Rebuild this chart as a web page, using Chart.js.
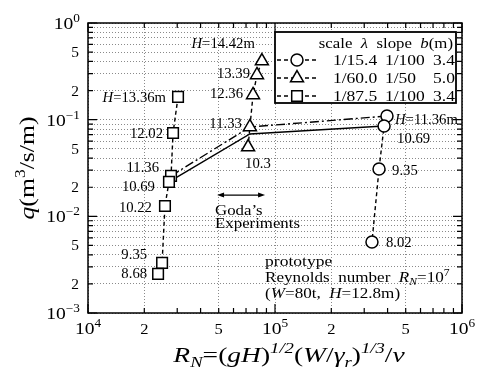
<!DOCTYPE html>
<html>
<head>
<meta charset="utf-8">
<script src="https://cdn.jsdelivr.net/npm/chart.js@4/dist/chart.umd.min.js"></script>
<style>
html, body { margin: 0; padding: 0; background: #fff; }
#wrap { width: 478px; height: 374px; }
</style>
</head>
<body>
<div id="wrap"><canvas id="chart" width="478" height="374"></canvas></div>
<script>
// tick labels
const xMajor = [1e4, 1e5, 1e6];
const xMajorExp = ['4', '5', '6'];
const xMinor = [2e4, 5e4, 2e5, 5e5];
const xMinorText = ['2', '5', '2', '5'];
const yMajor = [1e-3, 1e-2, 1e-1, 1];
const yMajorExp = ['\u22123', '\u22122', '\u22121', '0'];
const yMinor = [2e-3, 5e-3, 2e-2, 5e-2, 2e-1, 5e-1];
const yMinorText = ['2', '5', '2', '5', '2', '5'];

// scale 1/15.4 (circles)
const circleRN = [397000, 383000, 360000, 330000];
const circleQ = [0.109, 0.086, 0.0309, 0.00543];
const circleH = ['11.36', '10.69', '9.35', '8.02'];
// scale 1/60.0 (triangles)
const triRN = [85100, 80100, 76300, 73400, 71800];
const triQ = [0.404, 0.29, 0.18, 0.084, 0.052];
const triH = ['14.42', '13.39', '12.36', '11.33', '10.3'];
// scale 1/87.5 (squares)
const sqRN = [30300, 28500, 27800, 27100, 25800, 24900, 23700];
const sqQ = [0.172, 0.0728, 0.0262, 0.0227, 0.0128, 0.0033, 0.00254];
const sqH = ['13.36', '12.02', '11.36', '10.69', '10.22', '9.35', '8.68'];
// lines joining the three scales
const upperRN = [27800, 73400, 397000];
const upperQ = [0.0262, 0.084, 0.109];
const lowerRN = [27100, 73400, 383000];
const lowerQ = [0.0227, 0.0711, 0.086];

// legend table
const legendScale = ['1/15.4', '1/60.0', '1/87.5'];
const legendSlope = ['1/100', '1/50', '1/100'];
const legendB = ['3.4', '5.0', '3.4'];

// Goda's experiments range arrow
const godaFrom = 49000;
const godaTo = 88500;
const godaQ = 0.0166;

const FAM = '"Liberation Serif", "DejaVu Serif", serif';
const STYLES = ['circle', 'triangle', 'rect'];
const RADIUS = {circle: 6, triangle: 7.5, rect: 7.5};

// label offsets [dx, dy, align] for each point label
const circleLab = [[8, 3, 'left'], [13, 12, 'left'], [13, 1, 'left'], [14, 0, 'left']];
const triLab = [[-7, -18, 'right'], [-7, -2, 'right'], [-10, -2, 'right'], [-8, -4, 'right'], [-3, 16, 'left']];
const sqLab = [[-12, 0, 'right'], [-10, 0, 'right'], [-12, -9, 'right'], [-14, 4, 'right'], [-13, 1, 'right'], [-15, -9, 'right'], [-11, -1, 'right']];

function pts(xs, ys) {
	return xs.map((x, i) => ({x: x, y: ys[i]}));
}

function decadeTicks(e0, e1) {
	const out = [];
	for (let e = e0; e < e1; e++) {
		for (let m = 1; m <= 9; m++) out.push(m * Math.pow(10, e));
	}
	out.push(Math.pow(10, e1));
	return out;
}

function mant(v) {
	const e = Math.floor(Math.log10(v) + 1e-9);
	return Math.round(v / Math.pow(10, e));
}

// draw text made of parts: [text, flags] flags: i italic, ^ sup, _ sub
function rich(ctx, parts, x, y, align, size, sx) {
	sx = sx || 1;
	const segs = parts.map(p => {
		const f = p[1] || '';
		const small = f.indexOf('^') >= 0 || f.indexOf('_') >= 0;
		const s = small ? size * 0.68 : size;
		const font = (f.indexOf('i') >= 0 ? 'italic ' : '') + s + 'px ' + FAM;
		ctx.font = font;
		const dy = f.indexOf('^') >= 0 ? -size * 0.42 : (f.indexOf('_') >= 0 ? size * 0.22 : 0);
		return {t: p[0], font: font, dy: dy, w: ctx.measureText(p[0]).width};
	});
	const total = segs.reduce((a, s) => a + s.w, 0);
	let cx = align === 'center' ? -total / 2 : (align === 'right' ? -total : 0);
	ctx.save();
	ctx.translate(x, y);
	ctx.scale(sx, 1);
	ctx.textAlign = 'left';
	ctx.textBaseline = 'alphabetic';
	ctx.fillStyle = '#000';
	segs.forEach(s => {
		ctx.font = s.font;
		ctx.fillText(s.t, cx, s.dy);
		cx += s.w;
	});
	ctx.restore();
}

function marker(ctx, style, x, y) {
	const r = RADIUS[style];
	ctx.save();
	ctx.setLineDash([]);
	ctx.lineWidth = 1.5;
	ctx.strokeStyle = '#000';
	ctx.fillStyle = '#fff';
	ctx.beginPath();
	if (style === 'circle') {
		ctx.arc(x, y, r, 0, Math.PI * 2);
	} else if (style === 'triangle') {
		let a = 0;
		ctx.moveTo(x + Math.sin(a) * r, y - Math.cos(a) * r);
		a += Math.PI * 2 / 3;
		ctx.lineTo(x + Math.sin(a) * r, y - Math.cos(a) * r);
		a += Math.PI * 2 / 3;
		ctx.lineTo(x + Math.sin(a) * r, y - Math.cos(a) * r);
		ctx.closePath();
	} else {
		const s = Math.SQRT1_2 * r;
		ctx.rect(x - s, y - s, 2 * s, 2 * s);
	}
	ctx.fill();
	ctx.stroke();
	ctx.restore();
}

const decor = {
	id: 'decor',
	afterDatasetsDraw(chart) {
		const ctx = chart.ctx;
		const a = chart.chartArea;
		const sx = chart.scales.x;
		const sy = chart.scales.y;

		// frame
		ctx.save();
		ctx.strokeStyle = '#000';
		ctx.lineWidth = 1.5;
		ctx.strokeRect(a.left, a.top, a.right - a.left, a.bottom - a.top);

		// inward tick marks on all four sides
		ctx.lineWidth = 1.2;
		ctx.beginPath();
		decadeTicks(4, 6).forEach(v => {
			const p = sx.getPixelForValue(v);
			const len = mant(v) === 1 ? 9 : 5;
			ctx.moveTo(p, a.bottom); ctx.lineTo(p, a.bottom - len);
			ctx.moveTo(p, a.top); ctx.lineTo(p, a.top + len);
		});
		decadeTicks(-3, 0).forEach(v => {
			const p = sy.getPixelForValue(v);
			const len = mant(v) === 1 ? 9 : 5;
			ctx.moveTo(a.left, p); ctx.lineTo(a.left + len, p);
			ctx.moveTo(a.right, p); ctx.lineTo(a.right - len, p);
		});
		ctx.stroke();
		ctx.restore();

		// tick labels
		xMajor.forEach((v, i) => {
			rich(ctx, [['10', ''], [xMajorExp[i], '^']], sx.getPixelForValue(v), a.bottom + 21, 'center', 17, 1.15);
		});
		xMinor.forEach((v, i) => {
			rich(ctx, [[xMinorText[i], '']], sx.getPixelForValue(v), a.bottom + 21, 'center', 15, 1.1);
		});
		yMajor.forEach((v, i) => {
			rich(ctx, [['10', ''], [yMajorExp[i], '^']], a.left - 8, sy.getPixelForValue(v) + 6, 'right', 17, 1.15);
		});
		yMinor.forEach((v, i) => {
			rich(ctx, [[yMinorText[i], '']], a.left - 9, sy.getPixelForValue(v) + 5, 'right', 14, 1.1);
		});

		// axis titles
		rich(ctx, [['R', 'i'], ['N', 'i_'], ['=(', ''], ['gH', 'i'], [')', ''], ['1/2', 'i^'], ['(', ''], ['W', 'i'], ['/', ''], ['\u03b3', 'i'], ['r', 'i_'], [')', ''], ['1/3', 'i^'], ['/', ''], ['\u03bd', 'i']],
			(a.left + a.right) / 2 + 14, a.bottom + 49, 'center', 22, 1.25);
		ctx.save();
		ctx.translate(a.left - 61, (a.top + a.bottom) / 2);
		ctx.rotate(-Math.PI / 2);
		rich(ctx, [['q', 'i'], ['(m', ''], ['3', '^'], ['/s/m)', '']], 0, 7, 'center', 22, 1.17);
		ctx.restore();

		// point labels
		const groups = [
			[circleRN, circleQ, circleH, circleLab],
			[triRN, triQ, triH, triLab],
			[sqRN, sqQ, sqH, sqLab]
		];
		groups.forEach(g => {
			g[0].forEach((rn, i) => {
				const px = sx.getPixelForValue(rn) + g[3][i][0];
				const py = sy.getPixelForValue(g[1][i]) + g[3][i][1] + 5;
				const parts = i === 0 ? [['H', 'i'], ['=' + g[2][i] + 'm', '']] : [[g[2][i], '']];
				rich(ctx, parts, px, py, g[3][i][2], 14, 1.05);
			});
		});

		// Goda's experiments arrow
		const gx0 = sx.getPixelForValue(godaFrom);
		const gx1 = sx.getPixelForValue(godaTo);
		const gy = sy.getPixelForValue(godaQ);
		ctx.save();
		ctx.strokeStyle = '#000';
		ctx.fillStyle = '#000';
		ctx.lineWidth = 1.2;
		ctx.beginPath();
		ctx.moveTo(gx0 + 3, gy); ctx.lineTo(gx1 - 3, gy);
		ctx.stroke();
		ctx.beginPath();
		ctx.moveTo(gx0, gy); ctx.lineTo(gx0 + 7, gy - 2.5); ctx.lineTo(gx0 + 7, gy + 2.5); ctx.closePath();
		ctx.moveTo(gx1, gy); ctx.lineTo(gx1 - 7, gy - 2.5); ctx.lineTo(gx1 - 7, gy + 2.5); ctx.closePath();
		ctx.fill();
		ctx.restore();
		rich(ctx, [['Goda\u2019s', '']], gx0 - 2, gy + 20, 'left', 14, 1.2);
		rich(ctx, [['Experiments', '']], gx0 - 2, gy + 33, 'left', 14, 1.2);

		// prototype note
		const nx = gx1;
		const ny = a.bottom - 47;
		rich(ctx, [['prototype', '']], nx, ny, 'left', 14, 1.25);
		rich(ctx, [['Reynolds  number  ', ''], ['R', 'i'], ['N', 'i_'], ['=10', ''], ['7', '^']], nx, ny + 16, 'left', 14, 1.22);
		rich(ctx, [['(', ''], ['W', 'i'], ['=80t,  ', ''], ['H', 'i'], ['=12.8m)', '']], nx, ny + 32, 'left', 14, 1.22);

		// legend box
		const lx = 275, ly = 32, lw = 181, lh = 71;
		ctx.save();
		ctx.fillStyle = '#fff';
		ctx.fillRect(lx, ly, lw, lh);
		ctx.strokeStyle = '#000';
		ctx.lineWidth = 1.8;
		ctx.strokeRect(lx, ly, lw, lh);
		ctx.restore();
		rich(ctx, [['scale  ', ''], ['\u03bb', 'i'], ['  slope  ', ''], ['b', 'i'], ['(m)', '']], lx + lw - 3, ly + 16, 'right', 14, 1.2);
		legendScale.forEach((s, i) => {
			const my = ly + 28 + i * 18;
			ctx.save();
			ctx.strokeStyle = '#000';
			ctx.lineWidth = 1.3;
			ctx.setLineDash([4, 3]);
			ctx.beginPath();
			ctx.moveTo(lx + 2, my); ctx.lineTo(lx + 42, my);
			ctx.stroke();
			ctx.restore();
			marker(ctx, STYLES[i], lx + 22, my);
			rich(ctx, [[s, '']], lx + 58, my + 5, 'left', 14, 1.25);
			rich(ctx, [[legendSlope[i], '']], lx + 110, my + 5, 'left', 14, 1.25);
			rich(ctx, [[legendB[i], '']], lx + 158, my + 5, 'left', 14, 1.25);
		});
	}
};

function series(xs, ys, style) {
	return {
		data: pts(xs, ys),
		showLine: true,
		borderColor: '#000',
		borderWidth: 1.4,
		borderDash: [4, 3],
		pointStyle: style,
		pointRadius: RADIUS[style],
		pointBackgroundColor: '#fff',
		pointBorderColor: '#000',
		pointBorderWidth: 1.5
	};
}

new Chart(document.getElementById('chart'), {
	type: 'scatter',
	data: {
		datasets: [
			series(circleRN, circleQ, 'circle'),
			series(triRN, triQ, 'triangle'),
			series(sqRN, sqQ, 'rect'),
			{data: pts(upperRN, upperQ), showLine: true, borderColor: '#000', borderWidth: 1.4, borderDash: [9, 3, 2, 3], pointRadius: 0},
			{data: pts(lowerRN, lowerQ), showLine: true, borderColor: '#000', borderWidth: 1.4, pointRadius: 0}
		]
	},
	options: {
		responsive: false,
		animation: false,
		devicePixelRatio: 1,
		layout: {padding: {left: 88, top: 23, right: 16, bottom: 61}},
		plugins: {legend: {display: false}, tooltip: {enabled: false}},
		scales: {
			x: {
				type: 'logarithmic',
				min: 1e4,
				max: 1e6,
				ticks: {display: false},
				grid: {
					drawTicks: false,
					lineWidth: 1,
					color: (c) => (c.tick && [1, 2, 5].indexOf(mant(c.tick.value)) >= 0) ? '#8a8a8a' : 'rgba(0,0,0,0)'
				},
				border: {display: false, dash: [1, 2]},
				afterBuildTicks: (s) => { s.ticks = decadeTicks(4, 6).map(v => ({value: v})); }
			},
			y: {
				type: 'logarithmic',
				min: 1e-3,
				max: 1,
				ticks: {display: false},
				grid: {drawTicks: false, lineWidth: 1, color: '#8a8a8a'},
				border: {display: false, dash: [1, 2]},
				afterBuildTicks: (s) => { s.ticks = decadeTicks(-3, 0).map(v => ({value: v})); }
			}
		}
	},
	plugins: [decor]
});
</script>
</body>
</html>
